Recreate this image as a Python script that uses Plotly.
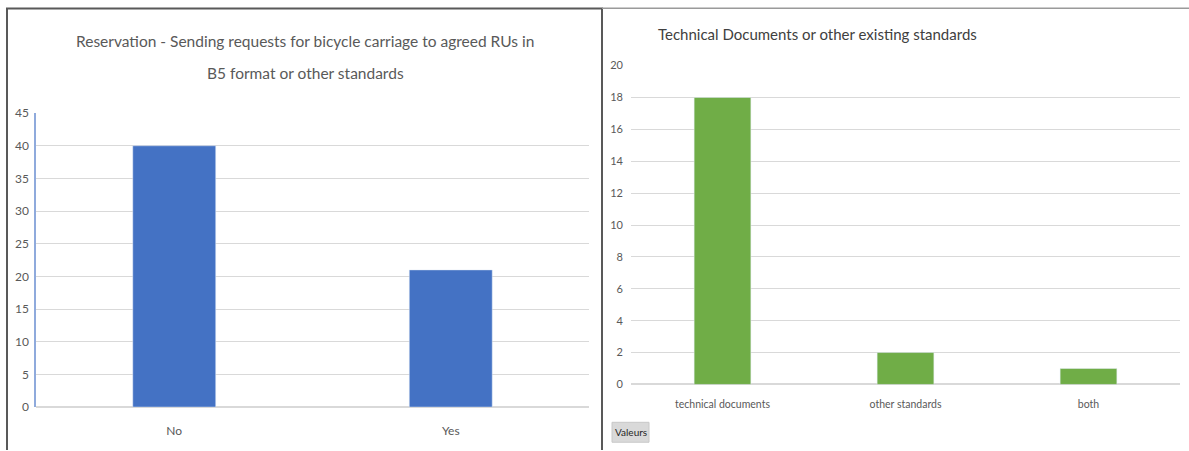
import plotly.graph_objects as go

W, H = 1189, 451

left_title_lines = ["Reservation - Sending requests for bicycle carriage to agreed RUs in",
                    "B5 format or other standards"]
left_categories = ["No", "Yes"]
left_values = [40, 21]
left_ticks = [0, 5, 10, 15, 20, 25, 30, 35, 40, 45]

right_title = "Technical Documents or other existing standards"
right_categories = ["technical documents", "other standards", "both"]
right_values = [18, 2, 1]
right_ticks = [0, 2, 4, 6, 8, 10, 12, 14, 16, 18, 20]

FONT = "Lato, 'Open Sans', sans-serif"

# the capture maps page rows y -> 0.968*y + 7.2; compensate so items land on the reference rows
SY, OY = 0.968, 7.2


def px(x):
    return x / W


def py(y):
    yy = (y - OY) / SY
    return 1 - yy / H


fig = go.Figure()
fig.add_trace(go.Bar(x=left_categories, y=left_values, marker_color="#4472C4",
                     width=0.3, xaxis="x", yaxis="y", showlegend=False, hoverinfo="skip"))
fig.add_trace(go.Bar(x=right_categories, y=right_values, marker_color="#70AD47",
                     width=0.31, xaxis="x2", yaxis="y2", showlegend=False, hoverinfo="skip"))

tickfont = dict(family=FONT, size=12, color="#595959")
tickfont2 = dict(family=FONT, size=11, color="#595959")
catfont2 = dict(family=FONT, size=10.5, color="#595959")

fig.update_layout(
    autosize=True,
    margin=dict(l=0, r=0, t=0, b=0, pad=0),
    paper_bgcolor="white", plot_bgcolor="white",
    font=dict(family=FONT),
    xaxis=dict(domain=[px(36), px(589)], anchor="y", showgrid=False, showline=False,
               ticks="", tickfont=tickfont, ticklabelstandoff=15),
    yaxis=dict(domain=[py(407.7), py(112.7)], anchor="x", range=[0, 45], tickvals=left_ticks,
               showgrid=True, gridcolor="#d9d9d9", gridwidth=1, zeroline=True,
               zerolinecolor="#d9d9d9", showline=True, linecolor="#8faadc", linewidth=1.5,
               ticks="", tickfont=tickfont, ticklabelstandoff=3),
    xaxis2=dict(domain=[px(631), px(1180)], anchor="y2", showgrid=False, showline=False,
                ticks="", tickfont=catfont2, ticklabelstandoff=12),
    yaxis2=dict(domain=[py(385), py(65)], anchor="x2", range=[0, 20], tickvals=right_ticks,
                showgrid=True, gridcolor="#d9d9d9", gridwidth=1, zeroline=True,
                zerolinecolor="#d9d9d9", showline=False,
                ticks="", tickfont=tickfont2, ticklabelstandoff=7),
    bargap=0.7,
)

for i, line in enumerate(left_title_lines):
    fig.add_annotation(x=px(305), y=py(40 + 32 * i), xref="paper", yref="paper", text=line,
                       showarrow=False, xanchor="center", yanchor="middle",
                       font=dict(family=FONT, size=15.5, color="#595959"))
fig.add_annotation(x=px(656), y=py(33), xref="paper", yref="paper", text=right_title,
                   showarrow=False, xanchor="left", yanchor="middle",
                   font=dict(family=FONT, size=15, color="#404040"))

# panel frames
fig.add_shape(type="rect", xref="paper", yref="paper", x0=px(7), x1=px(602), y0=py(470), y1=0.999,
              line=dict(color="#595959", width=2), fillcolor="rgba(0,0,0,0)", layer="above")
fig.add_shape(type="line", xref="paper", yref="paper", x0=px(602), x1=1, y0=0.9995, y1=0.9995,
              line=dict(color="#9a9a9a", width=1.5))

# "Valeurs" field button
fig.add_shape(type="rect", xref="paper", yref="paper", x0=px(612), x1=px(649), y0=py(443), y1=py(423),
              line=dict(color="#c8c8c8", width=1), fillcolor="#d9d9d9")
fig.add_annotation(x=px(630.5), y=py(433), xref="paper", yref="paper", text="Valeurs",
                   showarrow=False, xanchor="center", yanchor="middle",
                   font=dict(family=FONT, size=10, color="#262626"))

fig.write_html("out.html",
               default_width="100vw", default_height="100vh",
               config={"displayModeBar": False, "responsive": True},
               post_script="document.documentElement.style.margin='0';"
                           "document.body.style.margin='0';"
                           "document.body.style.overflow='hidden';")
